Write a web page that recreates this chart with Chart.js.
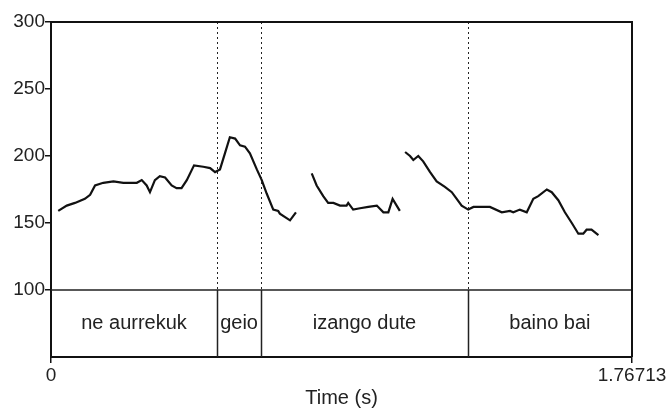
<!DOCTYPE html>
<html>
<head>
<meta charset="utf-8">
<script src="https://cdn.jsdelivr.net/npm/chart.js@4"></script>
<style>
  html, body { margin: 0; padding: 0; background: #fff; }
  #wrap { width: 672px; height: 410px; }
</style>
</head>
<body>
<div id="wrap"><canvas id="pitchChart" width="672" height="410"></canvas></div>
<script>
const endTime = 1.76713;
const yTicks = [100, 150, 200, 250, 300];

// pitch contour, three voiced stretches (time s, Hz)
const seg1Time = [0.022, 0.048, 0.073, 0.103, 0.119, 0.134, 0.159, 0.190, 0.220, 0.261, 0.276, 0.291, 0.301, 0.316, 0.331, 0.347, 0.367, 0.382, 0.397, 0.413, 0.435, 0.463, 0.484, 0.499, 0.514, 0.529, 0.544, 0.560, 0.575, 0.590, 0.605, 0.626, 0.641, 0.656, 0.676, 0.691, 0.696, 0.727, 0.745];
const seg1Hz = [159, 163, 165, 168, 171, 178, 180, 181, 180, 180, 182, 178, 173, 182, 185, 184, 178, 176, 176, 182, 193, 192, 191, 188, 190, 202, 214, 213, 208, 207, 202, 190, 182, 172, 160, 159, 157, 152, 158];

const seg2Time = [0.793, 0.808, 0.828, 0.843, 0.859, 0.879, 0.899, 0.904, 0.919, 0.940, 0.965, 0.991, 1.011, 1.026, 1.039, 1.061];
const seg2Hz = [187, 178, 170, 165, 165, 163, 163, 165, 160, 161, 162, 163, 158, 158, 168, 159];

const seg3Time = [1.077, 1.092, 1.102, 1.117, 1.132, 1.153, 1.173, 1.198, 1.219, 1.234, 1.249, 1.269, 1.285, 1.335, 1.371, 1.396, 1.406, 1.426, 1.447, 1.467, 1.482, 1.508, 1.523, 1.543, 1.563, 1.584, 1.604, 1.619, 1.629, 1.644, 1.665];
const seg3Hz = [203, 200, 197, 200, 196, 188, 181, 177, 173, 168, 163, 160, 162, 162, 158, 159, 158, 160, 158, 168, 170, 175, 173, 167, 158, 150, 142, 142, 145, 145, 141];

// text tier
const boundaries = [0.505, 0.639, 1.268];
const words = ["ne aurrekuk", "geio", "izango dute", "baino bai"];

const fontFamily = "'Liberation Sans', Arial, sans-serif";

function toPoints(times, values) {
  return times.map((t, i) => ({ x: t, y: values[i] }));
}

const tierPlugin = {
  id: "tier",
  afterDatasetsDraw(chart) {
    const { ctx, chartArea, scales } = chart;
    const x = scales.x;
    const y = scales.y;
    const yTop = y.getPixelForValue(300);
    const yTier = y.getPixelForValue(100);
    const yBottom = chartArea.bottom;

    ctx.save();
    // dotted boundary lines over the pitch area
    ctx.strokeStyle = "#222";
    ctx.lineWidth = 1;
    ctx.setLineDash([2, 3]);
    boundaries.forEach((b) => {
      const px = Math.round(x.getPixelForValue(b)) + 0.5;
      ctx.beginPath();
      ctx.moveTo(px, yTop);
      ctx.lineTo(px, yTier);
      ctx.stroke();
    });
    ctx.setLineDash([]);

    // tier box
    ctx.lineWidth = 1.5;
    ctx.beginPath();
    ctx.moveTo(chartArea.left, yTier);
    ctx.lineTo(chartArea.right, yTier);
    boundaries.forEach((b) => {
      const px = Math.round(x.getPixelForValue(b)) + 0.5;
      ctx.moveTo(px, yTier);
      ctx.lineTo(px, yBottom);
    });
    ctx.stroke();

    // frame top and right
    ctx.lineWidth = 2;
    ctx.strokeStyle = "#111";
    ctx.beginPath();
    ctx.moveTo(chartArea.left, chartArea.top);
    ctx.lineTo(chartArea.right, chartArea.top);
    ctx.lineTo(chartArea.right, chartArea.bottom);
    ctx.stroke();

    // words
    const edges = [0, ...boundaries, endTime];
    ctx.fillStyle = "#222";
    ctx.font = "20px " + fontFamily;
    ctx.textAlign = "center";
    ctx.textBaseline = "middle";
    words.forEach((w, i) => {
      const cx = (x.getPixelForValue(edges[i]) + x.getPixelForValue(edges[i + 1])) / 2;
      ctx.fillText(w, cx, (yTier + yBottom) / 2);
    });
    ctx.restore();
  },
};

const lineStyle = {
  borderColor: "#111",
  borderWidth: 2.2,
  pointRadius: 0,
  tension: 0,
  fill: false,
};

const ctx = document.getElementById("pitchChart").getContext("2d");
const pitchChart = new Chart(ctx, {
  type: "line",
  data: {
    datasets: [
      { label: "F0 1", data: toPoints(seg1Time, seg1Hz), ...lineStyle },
      { label: "F0 2", data: toPoints(seg2Time, seg2Hz), ...lineStyle },
      { label: "F0 3", data: toPoints(seg3Time, seg3Hz), ...lineStyle },
    ],
  },
  options: {
    responsive: false,
    animation: false,
    layout: {
      padding: { left: 0, right: 40, top: 22, bottom: 0 },
    },
    plugins: {
      legend: { display: false },
      tooltip: { enabled: false },
    },
    scales: {
      x: {
        type: "linear",
        min: 0,
        max: endTime,
        afterBuildTicks: (scale) => {
          scale.ticks = [{ value: 0 }, { value: endTime }];
        },
        afterFit: (scale) => {
          scale.height = 53;
        },
        ticks: {
          color: "#222",
          padding: 1,
          maxRotation: 0,
          font: { size: 19, family: fontFamily },
          callback: (v) => (v === 0 ? "0" : "1.76713"),
        },
        grid: { drawOnChartArea: false, color: "#111", tickLength: 6, lineWidth: 1.5 },
        border: { color: "#111", width: 2 },
        title: {
          display: true,
          text: "Time (s)",
          color: "#222",
          padding: { top: 0, bottom: 0 },
          font: { size: 20, family: fontFamily },
        },
      },
      y: {
        min: 50,
        max: 300,
        afterBuildTicks: (scale) => {
          scale.ticks = yTicks.map((v) => ({ value: v }));
        },
        afterFit: (scale) => {
          scale.width = 51;
        },
        ticks: {
          color: "#222",
          padding: 0,
          font: { size: 19, family: fontFamily },
        },
        grid: { drawOnChartArea: false, color: "#111", tickLength: 6, lineWidth: 1.5 },
        border: { color: "#111", width: 2 },
      },
    },
  },
  plugins: [tierPlugin],
});
</script>
</body>
</html>
